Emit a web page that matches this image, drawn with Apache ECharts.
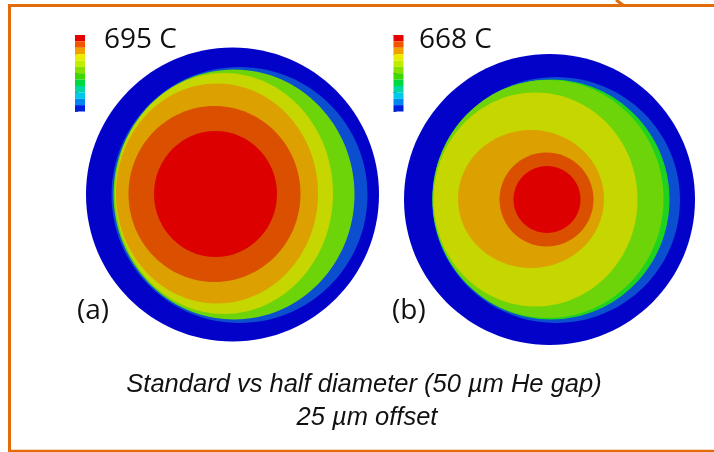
<!DOCTYPE html>
<html><head><meta charset="utf-8">
<script src="https://cdn.jsdelivr.net/npm/echarts@6/dist/echarts.min.js"></script>
<style>html,body{margin:0;padding:0;background:#fff}#c{width:714px;height:452px}</style>
</head><body><div id="c"></div>
<script>
// ---- data ----
const maxTempA = 695;
const maxTempB = 668;
const panelLabels = ['(a)', '(b)'];
const captionLines = ['Standard vs half diameter (50 \u00b5m He gap)', '25 \u00b5m offset'];

// contour bands of disc (a): centre, radii (image units), level index (0 = coolest)
const discA_cx    = [232.5, 239.5, 234.0, 224.0, 217.0, 214.5, 215.5];
const discA_cy    = [194.5, 195.0, 194.5, 193.5, 193.5, 194.0, 194.0];
const discA_rx    = [146.5, 128.0, 120.5, 109.0, 101.0,  86.0,  61.5];
const discA_ry    = [147.0, 128.0, 125.0, 120.5, 110.0,  88.0,  63.0];
const discA_level = [0, 1, 3, 4, 5, 6, 7];

// contour bands of disc (b)
const discB_cx    = [549.5, 556.0, 551.0, 548.0, 535.5, 531.0, 546.5, 547.0];
const discB_cy    = [199.5, 200.0, 199.5, 199.0, 199.5, 199.0, 199.5, 199.5];
const discB_rx    = [145.5, 124.0, 118.5, 115.5, 102.0,  73.0,  47.0,  33.5];
const discB_ry    = [145.5, 123.0, 120.0, 119.0, 107.0,  69.0,  47.0,  33.5];
const discB_level = [0, 1, 2, 3, 4, 5, 6, 7];

// colour-bar bands (top = hottest)
const colorbarBands  = ['b12','b11','b10','b9','b8','b7','b6','b5','b4','b3','b2','b1'];
const colorbarValues = [1,1,1,1,1,1,1,1,1,1,1,1];

// ---- styles ----
const contourPalette = ['#0202c8','#0b4ecf','#1ed21e','#6ed40a','#c6d600','#dca000','#da5000','#dc0000'];
const colorbarPalette = ['#e80000','#f05500','#f0a000','#ecec00','#c0ec00','#88e000','#3cd800','#00d840','#00d8a0','#00c8e8','#0088f0','#0020e0'];
const frameColor = '#e36c0a';

function discData(cx, cy, rx, ry, lv) {
  return cx.map((v, i) => [v, cy[i], rx[i], ry[i], lv[i]]);
}
function renderEllipse(params, api) {
  const c = api.coord([api.value(0), api.value(1)]);
  const s = api.size([api.value(2), api.value(3)]);
  return {
    type: 'ellipse',
    shape: { cx: c[0], cy: c[1], rx: s[0], ry: s[1] },
    style: { fill: contourPalette[api.value(4)] }
  };
}

const chart = echarts.init(document.getElementById('c'), null, { renderer: 'canvas' });

function cbGrid(left) { return { left: left, top: 35, width: 10, height: 76.5, containLabel: false }; }
function cbYAxis(idx) {
  return {
    gridIndex: idx, type: 'category', data: colorbarBands, position: 'right', inverse: true,
    axisLine: { show: false }, axisLabel: { show: false },
    axisTick: { show: true, length: 3, lineStyle: { color: '#555', width: 1 } },
    splitLine: { show: false }
  };
}
function cbXAxis(idx) { return { gridIndex: idx, type: 'value', min: 0, max: 1, show: false }; }
function cbSeries(idx) {
  return {
    type: 'bar', xAxisIndex: idx, yAxisIndex: idx, data: colorbarValues,
    barWidth: '100%', silent: true, animation: false,
    itemStyle: { color: p => colorbarPalette[p.dataIndex] }
  };
}

const font27 = '28px "Open Sans"';
const capFont = 'italic 25.5px "Liberation Sans"';
chart.setOption({
  animation: false,
  backgroundColor: '#ffffff',
  grid: [
    { left: 0, top: 0, right: 0, bottom: 0, containLabel: false },
    cbGrid(75),
    cbGrid(393.5)
  ],
  xAxis: [
    { gridIndex: 0, type: 'value', min: 0, max: 714, show: false },
    cbXAxis(1), cbXAxis(2)
  ],
  yAxis: [
    { gridIndex: 0, type: 'value', min: 0, max: 452, inverse: true, show: false },
    cbYAxis(1), cbYAxis(2)
  ],
  series: [
    { type: 'custom', xAxisIndex: 0, yAxisIndex: 0, renderItem: renderEllipse,
      data: discData(discA_cx, discA_cy, discA_rx, discA_ry, discA_level), silent: true },
    { type: 'custom', xAxisIndex: 0, yAxisIndex: 0, renderItem: renderEllipse,
      data: discData(discB_cx, discB_cy, discB_rx, discB_ry, discB_level), silent: true },
    cbSeries(1), cbSeries(2)
  ],
  graphic: [
    { type: 'polyline', shape: { points: [[714, 5.5], [9.5, 5.5], [9.5, 452]] },
      style: { stroke: frameColor, lineWidth: 3, fill: null } },
    { type: 'line', shape: { x1: 9, y1: 451, x2: 714, y2: 451 },
      style: { stroke: frameColor, lineWidth: 2.5 } },
    { type: 'line', shape: { x1: 616, y1: 0, x2: 623, y2: 5 },
      style: { stroke: frameColor, lineWidth: 3 } },
    { type: 'text', x: 104, y: 40, style: { text: maxTempA + ' C', font: font27, fill: '#111', verticalAlign: 'middle' } },
    { type: 'text', x: 419, y: 40, style: { text: maxTempB + ' C', font: font27, fill: '#111', verticalAlign: 'middle' } },
    { type: 'text', x: 77, y: 311, style: { text: panelLabels[0], font: font27, fill: '#111', verticalAlign: 'middle' } },
    { type: 'text', x: 392, y: 311, style: { text: panelLabels[1], font: font27, fill: '#111', verticalAlign: 'middle' } },
    { type: 'text', x: 364, y: 385, style: { text: captionLines[0], font: capFont, fill: '#111', align: 'center', verticalAlign: 'middle' } },
    { type: 'text', x: 367, y: 418, style: { text: captionLines[1], font: capFont, fill: '#111', align: 'center', verticalAlign: 'middle' } }
  ]
});
</script>
</body></html>
